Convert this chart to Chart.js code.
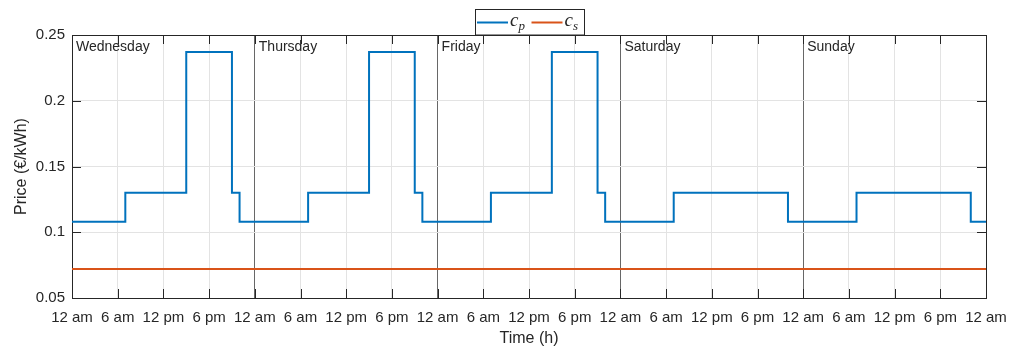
<!DOCTYPE html>
<html>
<head>
<meta charset="utf-8">
<script src="https://cdn.jsdelivr.net/npm/chart.js@4.4.1/dist/chart.umd.min.js"></script>
<style>
  html, body { margin: 0; padding: 0; background: #fff; }
  #wrap { width: 1011px; height: 347px; }
</style>
</head>
<body>
<div id="wrap"><canvas id="myChart" width="1011" height="347"></canvas></div>
<script>
// hours where the price changes (step holds until next point)
var cpHours  = [0, 7, 15, 21, 22, 31, 39, 45, 46, 55, 63, 69, 70, 79, 94, 103, 118, 120];
var cpPrices = [0.108, 0.13, 0.237, 0.13, 0.108, 0.13, 0.237, 0.13, 0.108, 0.13, 0.237, 0.13, 0.108, 0.13, 0.108, 0.13, 0.108, 0.108];
var csHours  = [0, 120];
var csPrices = [0.072, 0.072];
var days = ['Wednesday', 'Thursday', 'Friday', 'Saturday', 'Sunday'];
var tickLabels = ['12 am', '6 am', '12 pm', '6 pm'];
var yTicks = [0.05, 0.1, 0.15, 0.2, 0.25];

var axisColor = '#262626';
var font = 'Liberation Sans, Arial, Helvetica, sans-serif';

function toPoints(xs, ys){
    var pts = [];
    for (let i = 0; i < xs.length; i++) {
        pts.push({x: xs[i], y: ys[i]});
    }
    return pts;
}

var extras = {
    id: 'extras',
    afterDraw: function(chart){
        var ctx = chart.ctx;
        var a = chart.chartArea;
        var xs = chart.scales.x, ys = chart.scales.y;
        ctx.save();
        // box top/right
        ctx.strokeStyle = axisColor;
        ctx.lineWidth = 1;
        ctx.beginPath();
        ctx.moveTo(Math.round(a.left) + 0.5, Math.round(a.top) + 0.5);
        ctx.lineTo(Math.round(a.right) + 0.5, Math.round(a.top) + 0.5);
        ctx.lineTo(Math.round(a.right) + 0.5, Math.round(a.bottom) + 0.5);
        ctx.stroke();
        // inward ticks
        ctx.beginPath();
        xs.ticks.forEach(t => {
            var px = Math.round(xs.getPixelForValue(t.value)) + 0.5;
            ctx.moveTo(px, a.bottom); ctx.lineTo(px, a.bottom - 9);
            ctx.moveTo(px, a.top); ctx.lineTo(px, a.top + 9);
        });
        ys.ticks.forEach(t => {
            var py = Math.round(ys.getPixelForValue(t.value)) + 0.5;
            ctx.moveTo(a.left, py); ctx.lineTo(a.left + 9, py);
            ctx.moveTo(a.right, py); ctx.lineTo(a.right - 9, py);
        });
        ctx.stroke();
        // day names
        ctx.fillStyle = axisColor;
        ctx.font = '14px ' + font;
        ctx.textBaseline = 'middle';
        ctx.textAlign = 'left';
        days.forEach((d, i) => {
            ctx.fillText(d, xs.getPixelForValue(i * 24) + 4, a.top + 12);
        });
        // legend
        var cx = (a.left + a.right) / 2;
        var lx = cx - 54.5, lw = 109, ly = 9.5, lh = a.top - 9.5;
        ctx.fillStyle = '#fff';
        ctx.fillRect(lx, ly, lw, lh);
        ctx.strokeStyle = axisColor;
        ctx.strokeRect(Math.round(lx) + 0.5, ly, lw, lh);
        var items = [
            {c: '#0072BD', sub: 'p', x0: cx - 52},
            {c: '#D95319', sub: 's', x0: cx + 2.5}
        ];
        items.forEach(it => {
            ctx.strokeStyle = it.c;
            ctx.lineWidth = 2;
            ctx.beginPath();
            ctx.moveTo(it.x0, 22.5);
            ctx.lineTo(it.x0 + 31, 22.5);
            ctx.stroke();
            ctx.fillStyle = axisColor;
            ctx.textBaseline = 'alphabetic';
            ctx.font = 'italic 19px Liberation Serif, DejaVu Serif, serif';
            ctx.fillText('c', it.x0 + 33, 26);
            ctx.font = 'italic 13px Liberation Serif, DejaVu Serif, serif';
            ctx.fillText(it.sub, it.x0 + 41.5, 30);
        });
        ctx.restore();
    }
};

var config = {
    type: 'line',
    data: {
        datasets: [{
            label: 'c_p',
            data: toPoints(cpHours, cpPrices),
            borderColor: '#0072BD',
            borderWidth: 2,
            stepped: 'before',
            pointRadius: 0,
            fill: false
        }, {
            label: 'c_s',
            data: toPoints(csHours, csPrices),
            borderColor: '#D95319',
            borderWidth: 2,
            pointRadius: 0,
            fill: false
        }]
    },
    options: {
        responsive: false,
        animation: false,
        layout: { padding: { left: 0, right: 25, top: 35, bottom: 0 } },
        plugins: { legend: { display: false }, tooltip: { enabled: false } },
        scales: {
            x: {
                type: 'linear',
                min: 0, max: 120,
                afterFit: s => { s.height = 49; s.paddingLeft = 0; s.paddingRight = 0; },
                afterBuildTicks: s => {
                    s.ticks = [];
                    for (let h = 0; h <= 120; h += 6) s.ticks.push({value: h});
                },
                ticks: {
                    autoSkip: false, maxRotation: 0, padding: 11,
                    color: axisColor,
                    font: { family: font, size: 15 },
                    callback: v => tickLabels[(v / 6) % 4]
                },
                grid: {
                    drawTicks: false,
                    color: c => (c.tick && c.tick.value % 24 === 0 && c.tick.value > 0 && c.tick.value < 120) ? '#676767' : '#e3e3e3'
                },
                border: { color: axisColor },
                title: {
                    display: true, text: 'Time (h)', color: axisColor,
                    font: { family: font, size: 16, lineHeight: 1 },
                    padding: { top: 0, bottom: 0 }
                }
            },
            y: {
                min: 0.05, max: 0.25,
                afterFit: s => { s.width = 72; },
                afterBuildTicks: s => { s.ticks = yTicks.map(v => ({value: v})); },
                ticks: {
                    padding: 7, color: axisColor,
                    font: { family: font, size: 15 },
                    callback: v => String(Number(v.toFixed(2)))
                },
                grid: { drawTicks: false, color: '#e3e3e3' },
                border: { color: axisColor },
                title: {
                    display: true, text: 'Price (€/kWh)', color: axisColor,
                    font: { family: font, size: 16, lineHeight: 1 },
                    padding: { top: 14, bottom: 0 }
                }
            }
        }
    },
    plugins: [extras]
};

var ctx = document.getElementById('myChart').getContext('2d');
window.myLine = new Chart(ctx, config);
</script>
</body>
</html>
